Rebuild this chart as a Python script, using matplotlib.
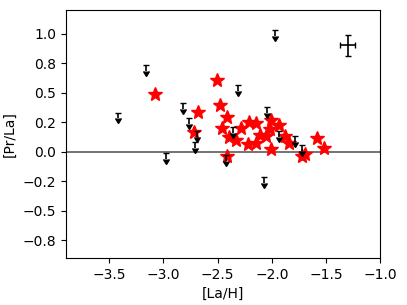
import numpy as np
import matplotlib
matplotlib.use("Agg")
import matplotlib.pyplot as plt
from matplotlib.ticker import MultipleLocator, FuncFormatter

# detections (red stars)
la_h = [-3.076, -2.506, -2.476, -2.685, -2.414, -2.716, -2.460, -2.399, -2.331,
        -2.285, -2.206, -2.144, -2.215, -2.144, -2.113, -2.052, -2.015, -2.008,
        -2.008, -1.929, -1.876, -1.837, -1.722, -1.692, -1.584, -1.517, -2.414]
pr_la = [0.487, 0.605, 0.400, 0.338, 0.295, 0.169, 0.197, 0.127, 0.099,
         0.197, 0.253, 0.245, 0.065, 0.071, 0.141, 0.132, 0.189, 0.273,
         0.020, 0.225, 0.132, 0.076, -0.036, -0.019, 0.113, 0.029, -0.036]

# upper limits
lim_la_h = [-3.423, -3.165, -2.815, -2.768, -1.969, -2.316, -2.045, -2.974,
            -2.691, -2.707, -2.423, -2.359, -2.070, -1.929, -1.784, -1.722]
lim_pr_la = [0.332, 0.732, 0.414, 0.287, 1.027, 0.563, 0.375, -0.008,
             0.175, 0.084, -0.028, 0.206, -0.216, 0.175, 0.132, 0.056]

# typical error
err_x, err_y = -1.30, 0.90
err_dx, err_dy = 0.07, 0.09

fig = plt.figure(figsize=(4.07, 3.05), dpi=100)
ax = fig.add_axes([0.162, 0.154, 0.772, 0.813])

ax.axhline(0, color='0.3', lw=1.1, zorder=1)
ax.errorbar(lim_la_h, lim_pr_la, yerr=0.05, uplims=True, fmt='none',
            color='k', ecolor='k', elinewidth=1.2, capsize=2.2, zorder=3)
ax.plot(la_h, pr_la, '*', color='red', ms=10, linestyle='none', zorder=2)
ax.errorbar([err_x], [err_y], xerr=err_dx, yerr=err_dy, fmt='none',
            color='k', ecolor='k', elinewidth=1.2, capsize=2)

ax.set_xlim(-3.9, -1.0)
ax.set_ylim(-0.9, 1.2)
ax.xaxis.set_major_locator(MultipleLocator(0.5))
ax.yaxis.set_major_locator(MultipleLocator(0.25))
ax.yaxis.set_major_formatter(FuncFormatter(lambda v, p: f"{v:.1f}".replace('-', '\u2212')))
ax.set_xlabel('[La/H]')
ax.set_ylabel('[Pr/La]')

fig.savefig('out.png', dpi=100)
